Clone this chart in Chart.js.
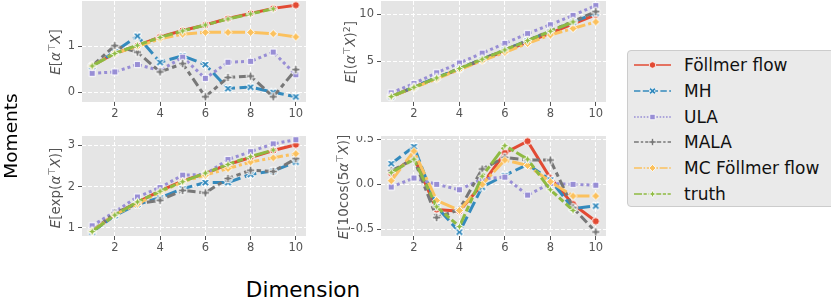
<!DOCTYPE html>
<html>
<head>
<meta charset="utf-8">
<script src="https://cdn.jsdelivr.net/npm/chart.js@4.4.1/dist/chart.umd.min.js"></script>
<style>
  body { margin: 0; background: #fff; }
  #wrap { position: relative; width: 831px; height: 301px; overflow: hidden; font-family: "DejaVu Sans", sans-serif; }
  canvas.panel { position: absolute; }
  .ytitle { position: absolute; transform: translate(-50%, -50%) rotate(-90deg); white-space: nowrap; font-size: 13.5px; color: #555; }
  .ytitle sup { font-size: 70%; vertical-align: 0.5em; line-height: 0; }
  .big { position: absolute; transform: translate(-50%, -50%); white-space: nowrap; color: #000; }
  #legend { position: absolute; left: 627px; top: 50px; width: 210px; height: 157px; background: #EAEAEA; border: 1px solid #ccc; border-radius: 4px; box-sizing: border-box; }
  .lrow { position: absolute; left: 0; height: 20px; }
  .lrow canvas { position: absolute; left: 5px; top: 3px; }
  .lrow span { position: absolute; left: 56px; top: 0; font-size: 17px; line-height: 20px; color: #111; white-space: nowrap; }
</style>
</head>
<body>
<div id="wrap">
  <canvas id="c0" class="panel" width="254" height="123" style="left:52px;top:1px"></canvas>
  <canvas id="c1" class="panel" width="255" height="123" style="left:351px;top:1px"></canvas>
  <canvas id="c2" class="panel" width="254" height="122" style="left:52px;top:136px"></canvas>
  <canvas id="c3" class="panel" width="255" height="122" style="left:351px;top:136px"></canvas>

  <div class="ytitle" style="left:55px;top:52px"><i>E</i>[<i>α</i><sup>⊤</sup><i>X</i>]</div>
  <div class="ytitle" style="left:350px;top:52px"><i>E</i>[(<i>α</i><sup>⊤</sup><i>X</i>)<sup>2</sup>]</div>
  <div class="ytitle" style="left:55px;top:188px"><i>E</i>[exp(<i>α</i><sup>⊤</sup><i>X</i>)]</div>
  <div class="ytitle" style="left:343px;top:187px"><i>E</i>[10cos(5<i>α</i><sup>⊤</sup><i>X</i>)]</div>

  <div class="big" style="left:10px;top:136px;font-size:18.5px;transform:translate(-50%,-50%) rotate(-90deg)">Moments</div>
  <div class="big" style="left:303px;top:289px;font-size:21.5px">Dimension</div>

  <div id="legend"></div>
</div>
<script>
// dimensions on the x axis
const dims = [1, 2, 3, 4, 5, 6, 7, 8, 9, 10];
const xTicks = [2, 4, 6, 8, 10];

const methods = ["Föllmer flow", "MH", "ULA", "MALA", "MC Föllmer flow", "truth"];
const colors = ["#E24A33", "#348ABD", "#988ED5", "#777777", "#FBC15E", "#8EBA42"];
const shapes = ["circle", "x", "square", "plus", "diamond", "star4"];
const dashes = [[], [4, 1.5], [1, 1], [3, 1.25, 1.5, 1.25], [5, 1, 1, 1], [5, 1, 2, 1, 2, 1]];

// E[a^T X]   (rows follow `methods`)
const meanVals = [
  [0.58, 0.84, 1.01, 1.20, 1.34, 1.46, 1.60, 1.71, 1.82, 1.89],
  [0.56, 0.88, 1.22, 0.65, 0.79, 0.60, 0.08, 0.11, 0.00, -0.10],
  [0.41, 0.44, 0.60, 0.47, 0.76, 0.30, 0.65, 0.67, 0.87, 0.38],
  [0.57, 1.01, 0.87, 0.44, 0.62, -0.10, 0.32, 0.35, -0.10, 0.49],
  [0.57, 0.85, 0.99, 1.16, 1.26, 1.30, 1.30, 1.30, 1.27, 1.20],
  [0.57, 0.84, 1.02, 1.19, 1.33, 1.46, 1.59, 1.70, 1.81]
];
// E[(a^T X)^2]
const sqVals = [
  [1.2, 2.2, 3.2, 4.15, 5.1, 6.1, 7.05, 8.0, 9.0, 9.95],
  [1.2, 2.25, 3.25, 4.2, 5.2, 6.2, 7.2, 8.2, 9.2, 10.15],
  [1.6, 2.6, 3.75, 4.8, 5.85, 6.9, 7.95, 8.9, 9.9, 10.95],
  [1.2, 2.2, 3.2, 4.2, 5.2, 6.2, 7.2, 8.25, 9.25, 10.3],
  [1.2, 2.15, 3.1, 4.1, 5.05, 5.95, 6.9, 7.8, 8.5, 9.2],
  [1.2, 2.2, 3.2, 4.2, 5.2, 6.2, 7.2, 8.2, 9.2]
];
// E[exp(a^T X)]
const expVals = [
  [0.91, 1.33, 1.62, 1.90, 2.14, 2.32, 2.54, 2.71, 2.88, 3.02],
  [0.90, 1.30, 1.57, 1.73, 1.95, 2.10, 2.10, 2.30, 2.38, 2.60],
  [1.05, 1.39, 1.75, 1.98, 2.28, 2.30, 2.66, 2.85, 3.04, 3.14],
  [0.92, 1.36, 1.59, 1.67, 1.91, 1.85, 2.20, 2.40, 2.37, 2.68],
  [0.92, 1.32, 1.58, 1.87, 2.12, 2.28, 2.44, 2.60, 2.70, 2.80],
  [0.91, 1.31, 1.63, 1.89, 2.12, 2.33, 2.54, 2.73, 2.89]
];
// E[10 cos(5 a^T X)]
const cosVals = [
  [0.12, 0.30, -0.28, -0.30, 0.00, 0.35, 0.48, 0.07, -0.22, -0.41],
  [0.23, 0.42, -0.25, -0.53, -0.03, 0.10, 0.22, 0.05, -0.27, -0.24],
  [-0.03, 0.07, 0.00, -0.06, 0.06, 0.08, -0.12, 0.01, 0.00, -0.01],
  [0.15, 0.28, -0.37, -0.28, 0.17, 0.30, 0.27, 0.27, -0.26, -0.53],
  [0.04, 0.37, -0.18, -0.29, 0.00, 0.27, 0.21, 0.03, -0.13, -0.13],
  [0.13, 0.28, -0.25, -0.47, 0.09, 0.43, 0.28, -0.06, -0.29]
];

function drawMarker(ctx, shape, x, y, r, color, edge) {
  ctx.save();
  ctx.translate(x, y);
  ctx.beginPath();
  if (shape === "circle") {
    ctx.arc(0, 0, r, 0, Math.PI * 2);
  } else if (shape === "square") {
    ctx.rect(-r * 0.85, -r * 0.85, r * 1.7, r * 1.7);
  } else if (shape === "diamond") {
    ctx.moveTo(0, -r * 1.1); ctx.lineTo(r * 1.1, 0); ctx.lineTo(0, r * 1.1); ctx.lineTo(-r * 1.1, 0); ctx.closePath();
  } else if (shape === "plus" || shape === "x") {
    if (shape === "x") ctx.rotate(Math.PI / 4);
    const w = r * 0.38, L = r * 1.15;
    const pts = [[-w,-L],[w,-L],[w,-w],[L,-w],[L,w],[w,w],[w,L],[-w,L],[-w,w],[-L,w],[-L,-w],[-w,-w]];
    pts.forEach((p, i) => i ? ctx.lineTo(p[0], p[1]) : ctx.moveTo(p[0], p[1]));
    ctx.closePath();
  } else if (shape === "star4") {
    for (let k = 0; k < 8; k++) {
      const a = -Math.PI / 2 + k * Math.PI / 4;
      const rad = k % 2 ? r * 0.5 : r * 1.2;
      k ? ctx.lineTo(rad * Math.cos(a), rad * Math.sin(a)) : ctx.moveTo(rad * Math.cos(a), rad * Math.sin(a));
    }
    ctx.closePath();
  }
  ctx.fillStyle = color;
  ctx.fill();
  if (edge) { ctx.lineWidth = edge; ctx.strokeStyle = "#fff"; ctx.stroke(); }
  ctx.restore();
}

function markerCanvas(shape, color, r) {
  const s = Math.ceil(r * 2.6 + 3);
  const c = document.createElement("canvas");
  c.width = s; c.height = s;
  drawMarker(c.getContext("2d"), shape, s / 2, s / 2, r, color, 1);
  return c;
}

const lw = 3;
const bgPlugin = {
  id: "bg",
  beforeDraw(chart) {
    const { ctx, chartArea: a } = chart;
    ctx.save();
    ctx.fillStyle = "#E5E5E5";
    ctx.fillRect(a.left, a.top, a.right - a.left, a.bottom - a.top);
    ctx.restore();
  }
};

const tickFont = { family: "DejaVu Sans", size: 11.5 };

function makePanel(id, vals, yMin, yMax, yTicks, fmt) {
  const datasets = vals.map((v, i) => ({
    label: methods[i],
    data: v.map((y, j) => ({ x: dims[j], y: y })),
    borderColor: colors[i],
    backgroundColor: colors[i],
    borderWidth: lw,
    borderDash: dashes[i].map(d => d * lw),
    pointStyle: markerCanvas(shapes[i], colors[i], 3.7),
    pointRadius: 4,
    tension: 0,
    order: methods.length - i
  }));
  new Chart(document.getElementById(id), {
    type: "line",
    data: { datasets },
    plugins: [bgPlugin],
    options: {
      responsive: false,
      animation: false,
      devicePixelRatio: 1,
      layout: { padding: 0, autoPadding: false },
      plugins: { legend: { display: false }, tooltip: { enabled: false } },
      scales: {
        x: {
          type: "linear",
          min: 0.55,
          max: 10.45,
          afterBuildTicks: s => { s.ticks = xTicks.map(v => ({ value: v })); },
          afterFit: s => { s.height = 22; s.paddingLeft = 0; s.paddingRight = 0; },
          ticks: { font: tickFont, color: "#555", padding: 1, maxRotation: 0, callback: v => String(v) },
          grid: { color: "#ffffff", lineWidth: 1, drawTicks: true, tickLength: 4, tickColor: "#555", tickWidth: 1 },
          border: { display: false, dash: [4, 2] }
        },
        y: {
          type: "linear",
          min: yMin,
          max: yMax,
          afterBuildTicks: s => { s.ticks = yTicks.map(v => ({ value: v })); },
          afterFit: s => { s.width = 30; s.paddingTop = 0; s.paddingBottom = 0; },
          ticks: { font: tickFont, color: "#555", padding: 3, callback: fmt },
          grid: { color: "#ffffff", lineWidth: 1, drawTicks: true, tickLength: 4, tickColor: "#555", tickWidth: 1 },
          border: { display: false, dash: [4, 2] }
        }
      }
    }
  });
}

const intFmt = v => String(v);
const decFmt = v => (v < 0 ? "\u2212" + Math.abs(v).toFixed(1) : v.toFixed(1));

makePanel("c0", meanVals, -0.213, 1.98, [0, 1], intFmt);
makePanel("c1", sqVals, 0.62, 11.44, [5, 10], intFmt);
makePanel("c2", expVals, 0.802, 3.231, [1, 2, 3], intFmt);
makePanel("c3", cosVals, -0.5747, 0.5376, [-0.5, 0, 0.5], decFmt);

// legend
const legend = document.getElementById("legend");
methods.forEach((m, i) => {
  const row = document.createElement("div");
  row.className = "lrow";
  row.style.top = (4 + i * 25.8) + "px";
  row.style.width = "100%";
  const c = document.createElement("canvas");
  c.width = 40; c.height = 14;
  const ctx = c.getContext("2d");
  ctx.strokeStyle = colors[i];
  ctx.lineWidth = 1.5;
  ctx.setLineDash(dashes[i].map(d => d * 1.6));
  ctx.beginPath(); ctx.moveTo(1, 7); ctx.lineTo(38, 7); ctx.stroke();
  ctx.setLineDash([]);
  drawMarker(ctx, shapes[i], 19.5, 7, 3.2, colors[i], 0.8);
  const t = document.createElement("span");
  t.textContent = m;
  row.appendChild(c);
  row.appendChild(t);
  legend.appendChild(row);
});
</script>
</body>
</html>
